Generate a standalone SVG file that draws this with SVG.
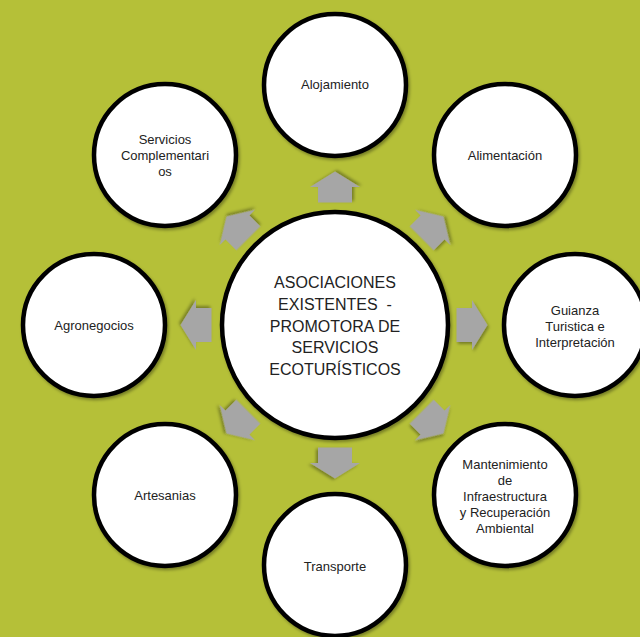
<svg xmlns="http://www.w3.org/2000/svg" width="640" height="637" viewBox="0 0 640 637">
<defs>
<filter id="sh" x="-20%" y="-20%" width="140%" height="140%">
<feDropShadow dx="1.5" dy="2" stdDeviation="1.5" flood-color="#000" flood-opacity="0.35"/>
</filter>
<polygon id="arr" points="-15.5,-17 0,-17 0,-25 15.5,0 0,25 0,17 -15.5,17"/>
</defs>
<style>
.bg{fill:#b5c038}
.c{fill:#fff;stroke:#000;stroke-width:4.5;filter:url(#sh)}
.a{fill:#a6a6a6;filter:url(#sh)}
text{font-family:"Liberation Sans",Arial,sans-serif;fill:#222;text-anchor:middle}
.s{font-size:13px}
.m{font-size:16px}
</style>
<rect class="bg" width="640" height="637"/>
<g id="connectors">
<use href="#arr" class="a" transform="translate(335,187) rotate(-90)"/>
<use href="#arr" class="a" transform="translate(432.6,227.4) rotate(-45)"/>
<use href="#arr" class="a" transform="translate(472,325)"/>
<use href="#arr" class="a" transform="translate(432.6,422.6) rotate(45)"/>
<use href="#arr" class="a" transform="translate(335,463) rotate(90)"/>
<use href="#arr" class="a" transform="translate(237.4,422.6) rotate(135)"/>
<use href="#arr" class="a" transform="translate(196,325) rotate(180)"/>
<use href="#arr" class="a" transform="translate(237.4,227.4) rotate(-135)"/>
</g>
<g id="center">
<circle class="c" cx="335" cy="325" r="113"/>
<text class="m" x="335" y="288">ASOCIACIONES</text>
<text class="m" x="335" y="310" xml:space="preserve">EXISTENTES  -</text>
<text class="m" x="335" y="332">PROMOTORA DE</text>
<text class="m" x="335" y="353">SERVICIOS</text>
<text class="m" x="335" y="375">ECOTURÍSTICOS</text>
</g>
<g id="alojamiento">
<circle class="c" cx="335" cy="85" r="71"/>
<text class="s" x="335" y="89">Alojamiento</text>
</g>
<g id="alimentacion">
<circle class="c" cx="505" cy="155" r="71"/>
<text class="s" x="505" y="160">Alimentación</text>
</g>
<g id="guianza">
<circle class="c" cx="575" cy="325" r="71"/>
<text class="s" x="575" y="315">Guianza</text>
<text class="s" x="575" y="331">Turistica e</text>
<text class="s" x="575" y="347">Interpretación</text>
</g>
<g id="mantenimiento">
<circle class="c" cx="505" cy="495" r="71"/>
<text class="s" x="505" y="469">Mantenimiento</text>
<text class="s" x="505" y="485">de</text>
<text class="s" x="505" y="501">Infraestructura</text>
<text class="s" x="505" y="517">y Recuperación</text>
<text class="s" x="505" y="533">Ambiental</text>
</g>
<g id="transporte">
<circle class="c" cx="335" cy="565" r="71"/>
<text class="s" x="335" y="571">Transporte</text>
</g>
<g id="artesanias">
<circle class="c" cx="165" cy="495" r="71"/>
<text class="s" x="165" y="500">Artesanias</text>
</g>
<g id="agronegocios">
<circle class="c" cx="94" cy="325" r="71"/>
<text class="s" x="94" y="330">Agronegocios</text>
</g>
<g id="servicios">
<circle class="c" cx="165" cy="155" r="71"/>
<text class="s" x="165" y="144">Servicios</text>
<text class="s" x="165" y="160">Complementari</text>
<text class="s" x="165" y="176">os</text>
</g>
</svg>
